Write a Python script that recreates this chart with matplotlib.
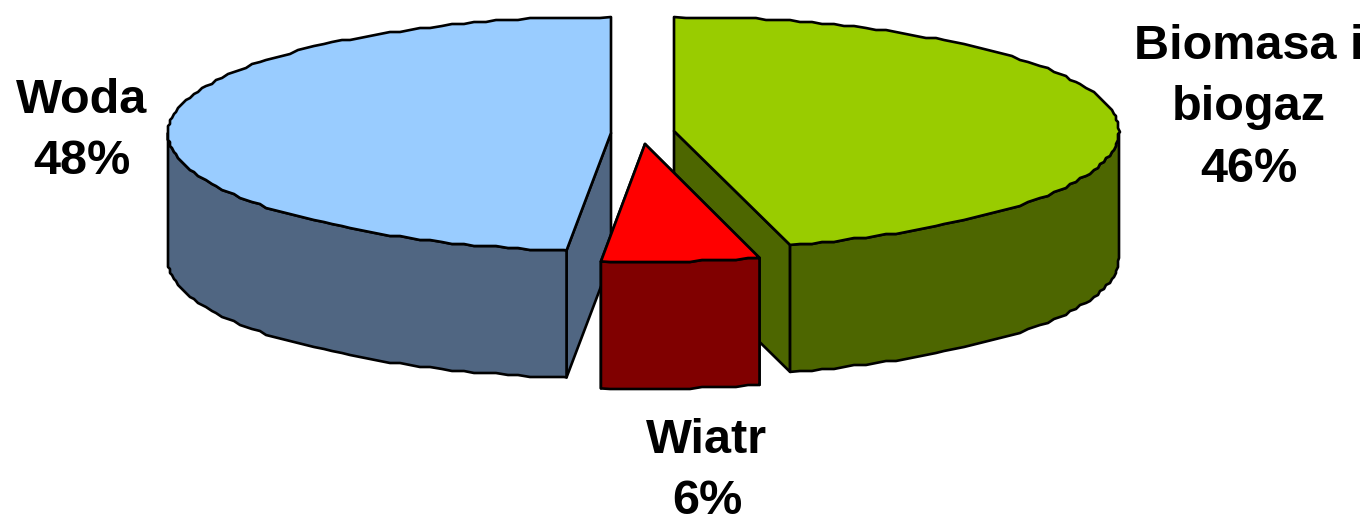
import numpy as np
import matplotlib
matplotlib.use('Agg')
from matplotlib import pyplot as plt

labels = ['Biomasa i\nbiogaz', 'Wiatr', 'Woda']
values = [45.8, 5.8, 48.4]

# drawing setup, pixels of the picture
top_colors = ['#99CC00', '#FF0000', '#99CCFF']
wall_colors = ['#4D6600', '#800000', '#506682']
centers = [(674, 131), (645, 144), (611, 133)]
radii = [(445, 114, 118), (439, 118, 118), (443, 116, 118)]
label_pos = [(1249, 108), (707, 471), (82, 131)]
depth = 127
line = 1.9
step = 1.5


def rim(cx, cy, r, ang):
    rx, r_back, r_front = r
    t = np.radians(ang)
    c = np.cos(t)
    return cx + rx * np.sin(t), cy - np.where(c > 0, r_back, r_front) * c


def arc(cx, cy, r, a, b):
    # same sample angles for top and wall so their outlines coincide
    ang = np.arange(np.floor(a / step) + 1, np.ceil(b / step)) * step
    x, y = rim(cx, cy, r, ang)
    # the source picture has slightly stepped outlines
    x, y = np.round(x / 2) * 2, np.round(y / 2) * 2
    xa, ya = rim(cx, cy, r, np.array([a, b]))
    return np.r_[xa[0], x, xa[1]], np.r_[ya[0], y, ya[1]]


fig = plt.figure(figsize=(13.68, 5.19), dpi=100)
ax = fig.add_axes([0, 0, 1, 1])
ax.set_xlim(0, 1368)
ax.set_ylim(519, 0)
ax.axis('off')

angles = 360 * np.cumsum([0] + values) / sum(values)

for i in [2, 0, 1]:
    a, b = angles[i], angles[i + 1]
    cx, cy = centers[i]
    r = radii[i]
    x, y = arc(cx, cy, r, a, b)

    # cut faces
    for ang in (a, b):
        if ang % 360 != 0:
            px, py = rim(cx, cy, r, np.array(ang))
            ax.fill([cx, px, px, cx], [cy, py, py + depth, cy + depth],
                    fc=wall_colors[i], ec='black', lw=line, joinstyle='round')

    # front wall, only the part of the rim facing the viewer
    lo, hi = max(a, 90), min(b, 270)
    if lo < hi:
        wx, wy = arc(cx, cy, r, lo, hi)
        ax.fill(np.r_[wx, wx[::-1]], np.r_[wy, wy[::-1] + depth],
                fc=wall_colors[i], ec='black', lw=line, joinstyle='round')

    # top
    ax.fill(np.r_[cx, x], np.r_[cy, y], fc=top_colors[i], ec='black',
            lw=line, joinstyle='round')

for i in range(3):
    ax.text(label_pos[i][0], label_pos[i][1],
            labels[i] + '\n' + str(round(values[i])) + '%',
            family='Liberation Sans', weight='bold', fontsize=35,
            ha='center', va='center', linespacing=1.48, color='black')

fig.savefig('out.png', dpi=100)
